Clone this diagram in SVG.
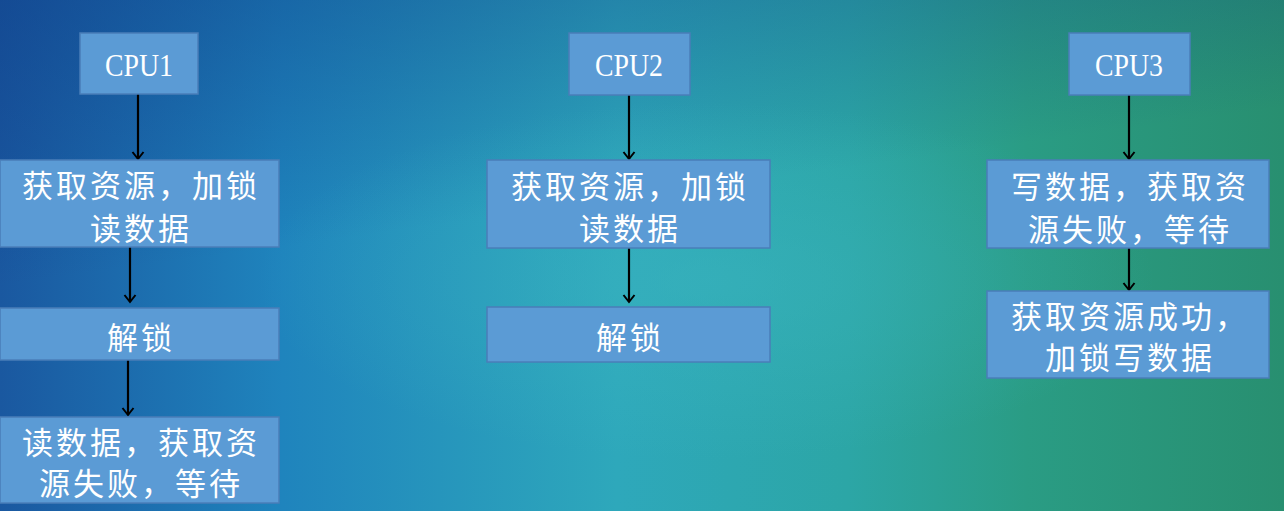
<svg xmlns="http://www.w3.org/2000/svg" width="1284" height="511" viewBox="0 0 1284 511">
<defs>
<linearGradient id="bgH" x1="0" y1="0" x2="1" y2="0">
<stop offset="0" stop-color="#1a58a0"/>
<stop offset="0.22" stop-color="#1f84bd"/>
<stop offset="0.48" stop-color="#2ea8bb"/>
<stop offset="0.66" stop-color="#2ca6a6"/>
<stop offset="0.8" stop-color="#2a9c84"/>
<stop offset="1" stop-color="#288f70"/>
</linearGradient>
<radialGradient id="glow" cx="0.55" cy="0.55" r="0.35">
<stop offset="0" stop-color="#3cb6c0" stop-opacity="0.5"/>
<stop offset="1" stop-color="#3cb6c0" stop-opacity="0"/>
</radialGradient>
<linearGradient id="shade" x1="0" y1="0" x2="0.35" y2="1">
<stop offset="0" stop-color="#0d3a85" stop-opacity="0.45"/>
<stop offset="0.5" stop-color="#0d3a85" stop-opacity="0"/>
</linearGradient>
<marker id="arr" markerWidth="14" markerHeight="14" refX="11" refY="7" orient="auto" markerUnits="userSpaceOnUse" viewBox="0 0 14 14">
<polyline points="4,1.5 11,7 4,12.5" fill="none" stroke="#000" stroke-width="2"/>
</marker>
</defs>
<style>
.box{fill:#5b9bd5;stroke:#4a7eb8;stroke-width:1.5}
.t{fill:#ffffff;font-family:"Noto Sans CJK SC","Noto Sans",sans-serif;font-size:31px;letter-spacing:3px;text-anchor:middle;dominant-baseline:central}
.c{fill:#ffffff;font-family:"Liberation Serif","Noto Sans CJK SC",serif;font-size:32px;text-anchor:middle;dominant-baseline:central}
.ln{stroke:#000;stroke-width:2.2;fill:none}
</style>
<rect width="1284" height="511" fill="url(#bgH)"/>
<rect width="1284" height="511" fill="url(#shade)"/>
<rect width="1284" height="511" fill="url(#glow)"/>

<g id="connectors">
<line class="ln" x1="138" y1="94" x2="138" y2="159" marker-end="url(#arr)"/>
<line class="ln" x1="130" y1="247" x2="130" y2="302" marker-end="url(#arr)"/>
<line class="ln" x1="128" y1="360" x2="128" y2="415" marker-end="url(#arr)"/>
<line class="ln" x1="629" y1="95" x2="629" y2="159" marker-end="url(#arr)"/>
<line class="ln" x1="629" y1="248" x2="629" y2="302" marker-end="url(#arr)"/>
<line class="ln" x1="1129" y1="95" x2="1129" y2="159" marker-end="url(#arr)"/>
<line class="ln" x1="1129" y1="248" x2="1129" y2="290" marker-end="url(#arr)"/>
</g>

<g id="cpu1">
<rect class="box" x="80" y="33" width="118" height="61"/>
<text class="c" x="139" y="65" textLength="68" lengthAdjust="spacingAndGlyphs">CPU1</text>
</g>
<g id="cpu1-lock">
<rect class="box" x="0" y="160" width="279" height="87"/>
<text class="t" x="141" y="183">获取资源，加锁</text>
<text class="t" x="141" y="226">读数据</text>
</g>
<g id="cpu1-unlock">
<rect class="box" x="0" y="308" width="279" height="52"/>
<text class="t" x="141" y="335">解锁</text>
</g>
<g id="cpu1-wait">
<rect class="box" x="0" y="417" width="279" height="86"/>
<text class="t" x="141" y="440">读数据，获取资</text>
<text class="t" x="141" y="481">源失败，等待</text>
</g>

<g id="cpu2">
<rect class="box" x="569" y="33" width="121" height="62"/>
<text class="c" x="629" y="65" textLength="68" lengthAdjust="spacingAndGlyphs">CPU2</text>
</g>
<g id="cpu2-lock">
<rect class="box" x="487" y="160" width="283" height="88"/>
<text class="t" x="630" y="184">获取资源，加锁</text>
<text class="t" x="630" y="226">读数据</text>
</g>
<g id="cpu2-unlock">
<rect class="box" x="487" y="307" width="283" height="55"/>
<text class="t" x="630" y="335">解锁</text>
</g>

<g id="cpu3">
<rect class="box" x="1069" y="33" width="121" height="62"/>
<text class="c" x="1129" y="65" textLength="68" lengthAdjust="spacingAndGlyphs">CPU3</text>
</g>
<g id="cpu3-wait">
<rect class="box" x="987" y="160" width="282" height="88"/>
<text class="t" x="1130" y="184">写数据，获取资</text>
<text class="t" x="1130" y="227">源失败，等待</text>
</g>
<g id="cpu3-write">
<rect class="box" x="987" y="291" width="282" height="87"/>
<text class="t" x="1130" y="314">获取资源成功，</text>
<text class="t" x="1130" y="355">加锁写数据</text>
</g>
</svg>
